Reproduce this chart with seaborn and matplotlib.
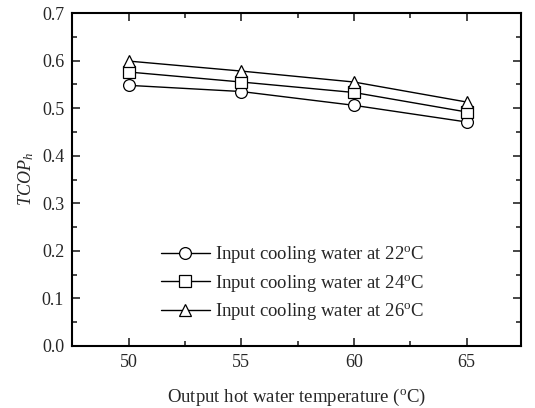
import matplotlib
matplotlib.use("Agg")
import matplotlib.pyplot as plt
import seaborn as sns
import pandas as pd
from matplotlib.ticker import MultipleLocator

temps = [50, 55, 60, 65]
tcop_22 = [0.548, 0.535, 0.506, 0.471]
tcop_24 = [0.576, 0.555, 0.533, 0.492]
tcop_26 = [0.599, 0.578, 0.555, 0.513]
labels = [r"Input cooling water at 22$^\mathrm{o}$C",
          r"Input cooling water at 24$^\mathrm{o}$C",
          r"Input cooling water at 26$^\mathrm{o}$C"]

rows = []
for lab, vals in zip(labels, [tcop_22, tcop_24, tcop_26]):
    for t, v in zip(temps, vals):
        rows.append({"T": t, "TCOP": v, "series": lab})
df = pd.DataFrame(rows)

sns.set_style("ticks")
plt.rcParams["font.family"] = ["Liberation Serif", "DejaVu Serif"]
plt.rcParams["mathtext.fontset"] = "custom"
plt.rcParams["mathtext.rm"] = "Liberation Serif"
plt.rcParams["mathtext.it"] = "Liberation Serif:italic"

fig = plt.figure(figsize=(5.35, 4.08), dpi=100)
ax = fig.add_axes([0.1355, 0.152, 0.8375, 0.816])

sns.lineplot(data=df, x="T", y="TCOP", hue="series", style="series",
             palette=["black"] * 3, markers=["o", "s", "^"], dashes=False,
             markersize=8.5, markerfacecolor="white", markeredgecolor="black",
             markeredgewidth=0.9, linewidth=1.0, ax=ax, legend=True)

ax.set_xlim(47.5, 67.4)
ax.set_ylim(0.0, 0.7)
ax.xaxis.set_major_locator(MultipleLocator(5))
ax.xaxis.set_minor_locator(MultipleLocator(2.5))
ax.yaxis.set_major_locator(MultipleLocator(0.1))
ax.yaxis.set_minor_locator(MultipleLocator(0.05))
ax.yaxis.set_major_formatter(matplotlib.ticker.FormatStrFormatter("%.1f"))
ax.tick_params(which="both", direction="in", top=True, right=True, labelsize=13, width=1.2)
ax.tick_params(which="major", length=6, pad=6)
ax.tick_params(which="minor", length=3.5)
for s in ax.spines.values():
    s.set_linewidth(1.5)
    s.set_color("black")

ax.set_xlabel(r"Output hot water temperature ($^\mathrm{o}$C)", fontsize=13.5, labelpad=11)
ax.set_ylabel(r"$TCOP_h$", fontsize=13, labelpad=4)

leg = ax.legend(frameon=False, loc="lower left", bbox_to_anchor=(0.16, 0.02),
                fontsize=13.5, handlelength=2.6, handletextpad=0.3, labelspacing=0.4)

fig.savefig("out.png", dpi=100)
